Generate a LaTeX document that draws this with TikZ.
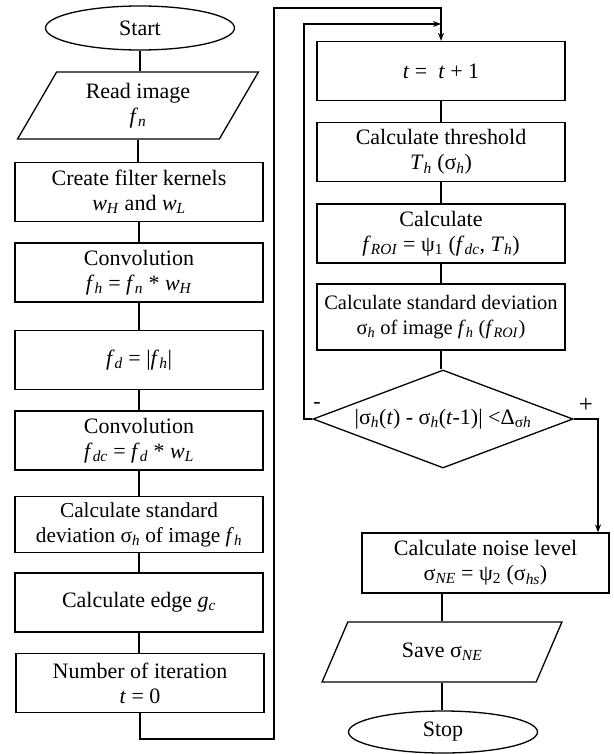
\documentclass[tikz,border=0pt]{standalone}
\usepackage{fontspec}
\setmainfont{Liberation Serif}
\usetikzlibrary{arrows.meta,shapes.geometric}
\newcommand{\iv}[1]{\textit{#1}}
\newcommand{\isb}[1]{\textsubscript{\textit{#1}}}
\tikzset{>={Stealth[length=8pt,width=6pt]},every node/.style={font=\fontsize{22}{25}\selectfont},
 block/.style={draw,line width=1.3pt,minimum width=248pt,minimum height=59pt,align=center,inner sep=2pt},
 io/.style={trapezium,trapezium left angle=62,trapezium right angle=118,trapezium stretches=true,
 draw,line width=1.3pt,minimum width=241pt,minimum height=67pt,align=center,inner sep=2pt},
 term/.style={ellipse,draw,line width=1.3pt,minimum width=189pt,minimum height=44pt,inner sep=0pt},
 decide/.style={diamond,draw,line width=1.3pt,shape aspect=2.6,inner sep=0pt,minimum width=260pt,minimum height=98pt},
 flow/.style={line width=1.3pt}}

\begin{document}
\begin{tikzpicture}[x=1pt,y=-1pt]
\useasboundingbox (0,0) rectangle (613,754);
% left column
\node[term] (start) at (140,28) {Start};
\node[io] (read) at (138,105.5) {Read image\\\iv{f}\isb{n}};
\node[block] (kern) at (139,192) {Create filter kernels\\\iv{w}\isb{H} and \iv{w}\isb{L}};
\node[block] (conv1) at (139,272.5) {Convolution\\\iv{f}\isb{h} = \iv{f}\isb{n} * \iv{w}\isb{H}};
\node[block] (absd) at (139,360) {\iv{f}\isb{d} = |\iv{f}\isb{h}|};
\node[block] (conv2) at (139,440.5) {Convolution\\\iv{f}\isb{dc} = \iv{f}\isb{d} * \iv{w}\isb{L}};
\node[block,minimum height=56pt,font=\fontsize{21.3}{25}\selectfont] (sdev) at (139,524.5)
 {Calculate standard\\deviation σ\isb{h} of image \iv{f}\isb{h}};
\node[block] (edge) at (139,602.5) {Calculate edge \iv{g}\isb{c}};
\node[block] (iter) at (140,683) {Number of iteration\\\iv{t} = 0};
% right column
\node[block] (tinc) at (441,71) {\iv{t} = \ \iv{t} + 1};
\node[block] (thr) at (441,152) {Calculate threshold\\\iv{T}\isb{h} (σ\isb{h})};
\node[block] (roi) at (441,233.5) {Calculate\\\iv{f}\isb{ROI} = ψ\textsubscript{1} (\iv{f}\isb{dc}, \iv{T}\isb{h})};
\node[block,minimum height=66pt,font=\fontsize{20.5}{25}\selectfont] (sdroi) at (441,317)
 {Calculate standard deviation\\σ\isb{h} of image \iv{f}\isb{h} (\iv{f}\isb{ROI})};
\node[decide] (conv) at (443,419) {|σ\isb{h}(\iv{t}) - σ\isb{h}(\iv{t}-1)| <Δ\textsubscript{σ\iv{h}}};
\node (minus) at (317,405) {-};
\node[font=\fontsize{25}{25}\selectfont] (plus) at (586,405) {+};
\node[block,minimum width=247pt,minimum height=60pt] (noise) at (485.5,563) {Calculate noise level\\σ\isb{NE} = ψ\textsubscript{2} (σ\isb{hs})};
\node[io,minimum width=240pt,minimum height=60pt] (save) at (442,652) {Save σ\isb{NE}};
\node[term,minimum height=42pt] (stop) at (443,732) {Stop};
% connectors
\foreach \a/\b in {start/read,read/kern,kern/conv1,conv1/absd,absd/conv2,conv2/sdev,sdev/edge,
 edge/iter,tinc/thr,thr/roi,roi/sdroi,sdroi/conv,save/stop}
 \draw[flow] (\a.south) -- (\a.south |- \b.north);
\coordinate (loopA) at (274,739);
\coordinate (loopB) at (274,8);
\draw[flow,->] (iter.south) |- (loopA) -- (loopB) -| (tinc.north);
\coordinate (loopC) at (304,24);
\draw[flow,->] (conv.west) -| (loopC) -- (loopC -| tinc.north);
\coordinate (yes) at (598,419);
\draw[flow,->] (conv.east) -- (yes) -- (yes |- noise.north);
\draw[flow] (save.north |- noise.south) -- (save.north);
\end{tikzpicture}
\end{document}
